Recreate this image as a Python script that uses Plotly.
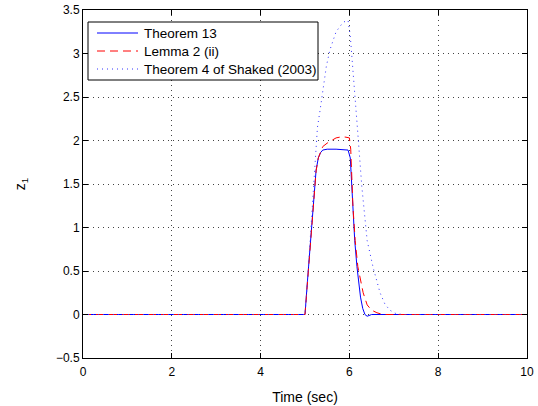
import plotly.graph_objects as go

# Theorem 13 (solid blue)
t_thm13 = [0, 5.0, 5.05, 5.1, 5.15, 5.2, 5.25, 5.3, 5.35, 5.4, 5.5, 5.7, 5.9, 5.97, 6.02, 6.05, 6.08, 6.12, 6.17, 6.21, 6.25, 6.3, 6.35, 6.4, 6.5, 10]
z_thm13 = [0, 0, 0.35, 0.7, 1.05, 1.4, 1.66, 1.8, 1.86, 1.89, 1.9, 1.9, 1.89, 1.89, 1.8, 1.5, 1.16, 0.85, 0.55, 0.35, 0.2, 0.07, 0.0, -0.02, 0, 0]

# Lemma 2 (ii) (dashed red)
t_lem2 = [0, 5.0, 5.05, 5.1, 5.15, 5.2, 5.25, 5.3, 5.35, 5.4, 5.5, 5.6, 5.7, 5.8, 5.9, 6.0, 6.03, 6.08, 6.13, 6.19, 6.25, 6.31, 6.4, 6.5, 6.62, 6.75, 10]
z_lem2 = [0, 0, 0.33, 0.68, 1.03, 1.38, 1.65, 1.8, 1.87, 1.93, 1.97, 2.0, 2.03, 2.04, 2.04, 2.03, 1.9, 1.24, 0.85, 0.55, 0.38, 0.25, 0.11, 0.05, 0.02, 0, 0]

# Theorem 4 of Shaked (2003) (dotted blue)
t_shaked = [0, 5.0, 5.05, 5.1, 5.15, 5.2, 5.28, 5.34, 5.4, 5.48, 5.56, 5.7, 5.86, 5.97, 6.02, 6.06, 6.1, 6.19, 6.28, 6.35, 6.4, 6.53, 6.69, 6.8, 6.91, 7.05, 7.2, 10]
z_shaked = [0, 0, 0.33, 0.7, 1.08, 1.5, 2.15, 2.35, 2.58, 2.85, 3.04, 3.25, 3.36, 3.38, 3.2, 2.96, 2.7, 2.08, 1.47, 1.12, 0.85, 0.55, 0.25, 0.12, 0.05, 0.01, 0, 0]

series_names = ['Theorem 13', 'Lemma 2 (ii)', 'Theorem 4 of Shaked (2003)']
series_colors = ['#0000ff', '#ff0000', '#3333ff']
series_dash = ['solid', '8px,5px', '1px,4px']

x_ticks = [0, 2, 4, 6, 8, 10]
y_ticks = [-0.5, 0, 0.5, 1, 1.5, 2, 2.5, 3, 3.5]

W, H = 538, 406
L, R, T, B = 83, 11, 10, 48
PW, PH = W - L - R, H - T - B


def px_x(px):
    return (px - L) / PW


def px_y(py):
    return (H - B - py) / PH


fig = go.Figure()
for t, z, name, col, dash in zip([t_thm13, t_lem2, t_shaked], [z_thm13, z_lem2, z_shaked],
                                 series_names, series_colors, series_dash):
    fig.add_trace(go.Scatter(x=t, y=z, mode='lines', name=name,
                             line=dict(color=col, width=1, dash=dash)))

# legend box drawn by hand (MATLAB style, tight rows)
fig.add_shape(type='rect', xref='paper', yref='paper',
              x0=px_x(88), x1=px_x(318), y0=px_y(80), y1=px_y(22),
              line=dict(color='black', width=1), fillcolor='white', layer='above')
for i, (name, col, dash) in enumerate(zip(series_names, series_colors, series_dash)):
    yy = px_y(33 + 18 * i)
    fig.add_shape(type='line', xref='paper', yref='paper',
                  x0=px_x(97), x1=px_x(138), y0=yy, y1=yy,
                  line=dict(color=col, width=1, dash=dash), layer='above')
    fig.add_annotation(x=px_x(142), y=yy, xref='paper', yref='paper', text=name,
                       showarrow=False, xanchor='left', yanchor='middle',
                       font=dict(size=13.5, color='black'))

axis_style = dict(
    showline=True, linecolor='black', linewidth=1, mirror='ticks',
    ticks='inside', ticklen=5, tickcolor='black',
    showgrid=True, gridcolor='#444444', gridwidth=1, griddash='1px,4px',
    zeroline=False, automargin=False,
    tickfont=dict(family='Liberation Sans, Arial', size=12, color='black'),
)

fig.update_layout(
    width=W, height=H,
    margin=dict(l=L, r=R, t=T, b=B),
    paper_bgcolor='white', plot_bgcolor='white',
    font=dict(family='Liberation Sans, Arial', size=12, color='black'),
    showlegend=False,
    xaxis=dict(range=[0, 10], tickvals=x_ticks, ticklabelstandoff=3,
               title=dict(text='Time (sec)', standoff=13), **axis_style),
    yaxis=dict(range=[-0.5, 3.5], tickvals=y_ticks,
               title=dict(text='z<sub>1</sub>', standoff=26), **axis_style),
)

# remove the default page margin so the figure sits at the window corner
fig.write_html("out.html", config={'displayModeBar': False},
               post_script="document.body.style.margin='0';")
